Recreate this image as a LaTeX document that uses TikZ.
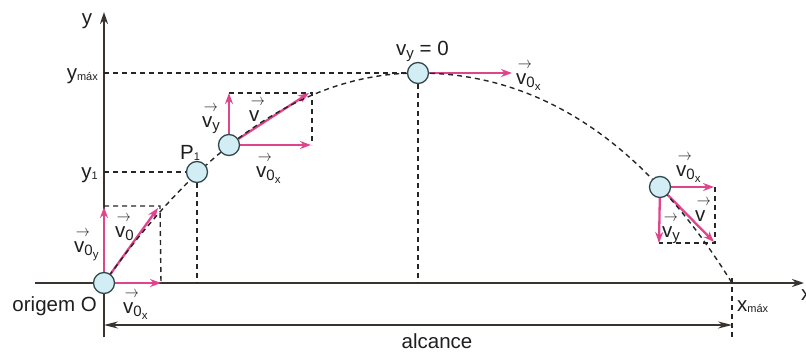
\documentclass[tikz,border=0pt]{standalone}
\usepackage{fontspec}
\usepackage{graphicx}
\setmainfont{Liberation Sans}
\usetikzlibrary{arrows.meta}
\definecolor{vpink}{HTML}{E0448C}
\definecolor{ballfill}{HTML}{D3EDF5}
\definecolor{ballline}{HTML}{2F4A4E}
\definecolor{axiscol}{HTML}{3A3330}
\newcommand\vv{\rlap{\raisebox{16pt}{\kern0.08em\resizebox{14pt}{6pt}{$\rightarrow$}}}v}
\newcommand\sbA[1]{\raisebox{-3pt}{\fontsize{15}{15}\selectfont #1}}
\newcommand\sbB[1]{\raisebox{-3pt}{\fontsize{11.5}{11.5}\selectfont #1}}
\newcommand\sbS[1]{\raisebox{-1pt}{\fontsize{11}{11}\selectfont #1}}
\pgfdeclarelayer{bg}
\pgfsetlayers{bg,main}
\begin{document}
\begin{tikzpicture}[x=1pt,y=-1pt,font=\fontsize{20.5}{24}\selectfont,
  axis/.style={draw=axiscol,line width=1.8pt,-{Stealth[length=12pt,width=8pt]}},
  dim/.style={draw=axiscol,line width=1.2pt,{Stealth[length=14pt,width=7pt]}-{Stealth[length=14pt,width=7pt]}},
  guide/.style={draw=black!85,dash pattern=on 5pt off 4pt,line width=1.4pt},
  vel/.style={draw=vpink,line width=2.3pt,-{Stealth[length=11pt,width=8pt]}},
  ball/.style={circle,draw=ballline,fill=ballfill,line width=1.3pt,minimum size=21pt,inner sep=0pt},
  lbl/.style={inner sep=0pt,text=black!88}]
\useasboundingbox (0,0) rectangle (806,351);
% balls
\node[ball] (O) at (104,283) {};
\node[ball] (P1) at (197,172) {};
\node[ball] (B2) at (229,145) {};
\node[ball] (T) at (418,73) {};
\node[ball] (R) at (660,187) {};
% coordinates
\coordinate (yb) at (104,337);
\coordinate (yt) at (104,12);
\coordinate (xl) at (35,283);
\coordinate (xr) at (804,283);
\coordinate (ymA) at (104,73);
\coordinate (y1A) at (104,172);
\coordinate (P1f) at (197,283);
\coordinate (Tf) at (418,283);
\coordinate (xm) at (732,283);
\coordinate (xmt) at (732,278);
\coordinate (xmb) at (732,338);
\coordinate (dl) at (104,325);
\coordinate (dr) at (732,325);
\coordinate (ovy) at (104,207);
\coordinate (ov) at (158,208);
\coordinate (ovx) at (161,283);
\coordinate (obt) at (104,206);
\coordinate (obr) at (160,206);
\coordinate (bvy) at (229,93);
\coordinate (bv) at (309,93);
\coordinate (bvx) at (311,145);
\coordinate (bbr) at (312,93);
\coordinate (bbb) at (312,145);
\coordinate (tvx) at (512,73);
\coordinate (rvx) at (714,187);
\coordinate (rvy) at (659,243);
\coordinate (rv) at (714,242);
\coordinate (rbt) at (715,187);
\coordinate (rbb) at (715,243);
\begin{pgfonlayer}{bg}
  \draw[axis] (yb) -- (yt);
  \draw[axis] (xl) -- (xr);
  \draw[dim] (dl) -- (dr);
  % guides
  \draw[guide] (ymA) -- (T);
  \draw[guide] (y1A) -- (P1);
  \draw[guide] (P1) -- (P1f);
  \draw[guide] (T) -- (Tf);
  \draw[guide] (xmt) -- (xmb);
  \draw[guide] (obt) -- (obr) -- (ovx);
  \draw[guide] (bvy) -- (bbr) -- (bbb);
  \draw[guide] (rbt) -- (rbb) -- (rvy);
  % velocities
  \draw[vel] (O) -- (ovy);
  \draw[vel] (O) -- (ov);
  \draw[vel] (O) -- (ovx);
  \draw[vel] (B2) -- (bvy);
  \draw[vel] (B2) -- (bv);
  \draw[vel] (B2) -- (bvx);
  \draw[vel] (T) -- (tvx);
  \draw[vel] (R) -- (rvx);
  \draw[vel] (R) -- (rvy);
  \draw[vel] (R) -- (rv);
  % trajectory
  \draw[guide] (O.center) .. controls (203,143) and (307,73) .. (T.center)
               .. controls (540.7,73) and (645.3,143) .. (xm);
\end{pgfonlayer}
% labels
\node[lbl,anchor=base] (ylab) at (87,24) {y};
\node[lbl,anchor=base east] (ymaxlab) at (98,79) {y\sbS{máx}};
\node[lbl,anchor=base east] (y1lab) at (98,178) {y\sbS{1}};
\node[lbl,anchor=base west] (P1lab) at (180,159) {P\sbS{1}};
\node[lbl,anchor=base east] (olab) at (97,311) {origem O};
\node[lbl,anchor=base west] (xmlab) at (737,311) {x\sbS{máx}};
\node[lbl,anchor=base west] (xlab) at (801,300) {x};
\node[lbl,anchor=base] (alc) at (437,348) {alcance};
\node[lbl,anchor=base west] (ov0y) at (74,252) {\vv\sbA{0\sbB{y}}};
\node[lbl,anchor=base west] (ov0) at (115,237) {\vv\sbA{0}};
\node[lbl,anchor=base west] (ov0x) at (123,313) {\vv\sbA{0\sbB{x}}};
\node[lbl,anchor=base west] (bvylab) at (202,127) {\vv\sbA{y}};
\node[lbl,anchor=base west] (bvlab) at (249,121) {\vv};
\node[lbl,anchor=base west] (bvxlab) at (256,177) {\vv\sbA{0\sbB{x}}};
\node[lbl,anchor=base west] (tvy0) at (396,55) {v\sbA{y} = 0};
\node[lbl,anchor=base west] (tvxlab) at (516,84) {\vv\sbA{0\sbB{x}}};
\node[lbl,anchor=base west] (rvxlab) at (676,176) {\vv\sbA{0\sbB{x}}};
\node[lbl,anchor=base west] (rvlab) at (695,221) {\vv};
\node[lbl,anchor=base west] (rvylab) at (662,237) {\vv\sbA{y}};
\end{tikzpicture}
\end{document}
